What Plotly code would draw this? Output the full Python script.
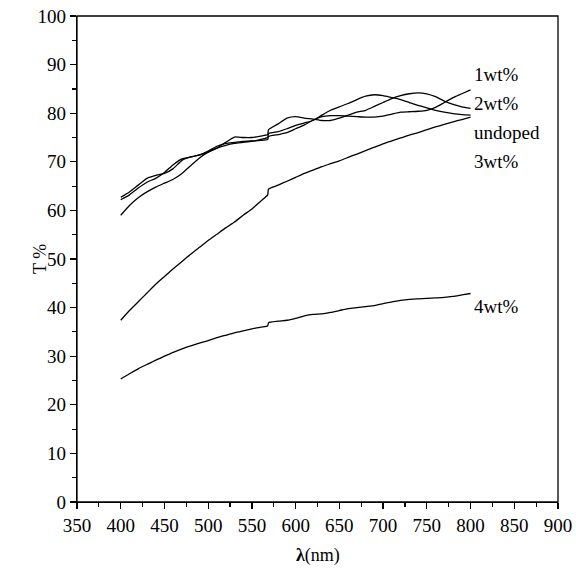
import plotly.graph_objects as go

wavelength = [400, 410, 420, 430, 440, 450, 460, 470, 480, 490, 500, 510, 520, 530, 540, 550, 560, 568, 569,
              580, 590, 600, 610, 620, 630, 640, 650, 660, 670, 680, 690, 700, 710, 720, 730, 740, 750, 760,
              770, 780, 790, 800]

undoped = [59.0, 61.0, 62.6, 63.8, 64.8, 65.6, 66.4, 67.6, 69.2, 70.8, 72.0, 72.8, 73.4, 73.8, 74.0, 74.2,
           74.6, 75.0, 75.8, 76.2, 76.8, 77.5, 78.0, 78.5, 79.6, 80.6, 81.3, 82.0, 82.8, 83.5, 83.8, 83.6,
           83.2, 82.8, 82.2, 81.6, 81.1, 80.6, 80.2, 79.9, 79.7, 79.6]

wt1 = [62.2, 63.2, 64.6, 65.8, 66.6, 67.8, 69.4, 70.6, 71.0, 71.4, 72.2, 73.2, 73.8, 74.0, 74.2, 74.3,
       74.4, 74.6, 75.2, 75.6, 76.0, 76.8, 77.6, 78.6, 79.3, 79.5, 79.5, 79.4, 79.3, 79.2, 79.2, 79.4,
       79.8, 80.2, 80.3, 80.4, 80.6, 81.2, 82.2, 83.2, 84.0, 84.8]

wt2 = [62.7, 63.8, 65.2, 66.6, 67.2, 67.6, 68.6, 70.3, 71.0, 71.4, 72.0, 72.8, 74.0, 75.1, 75.0, 75.0,
       75.3, 75.6, 76.6, 77.8, 79.0, 79.3, 79.0, 78.8, 78.5, 78.5, 79.0, 79.6, 80.2, 80.6, 81.4, 82.2,
       83.0, 83.6, 84.0, 84.2, 84.0, 83.4, 82.5, 81.8, 81.3, 81.0]

wt3 = [37.4, 39.4, 41.2, 43.0, 44.8, 46.4, 48.0, 49.5, 51.0, 52.4, 53.8, 55.1, 56.4, 57.6, 59.0, 60.3,
       61.9, 63.2, 64.4, 65.2, 66.0, 66.8, 67.6, 68.3, 69.0, 69.6, 70.2, 70.9, 71.6, 72.3, 73.0, 73.7,
       74.3, 74.9, 75.5, 76.0, 76.6, 77.2, 77.7, 78.2, 78.7, 79.2]

wt4 = [25.3, 26.4, 27.4, 28.3, 29.2, 30.0, 30.8, 31.5, 32.1, 32.7, 33.2, 33.8, 34.3, 34.8, 35.2, 35.6,
       36.0, 36.2, 36.9, 37.2, 37.4, 37.8, 38.3, 38.6, 38.7, 39.0, 39.4, 39.8, 40.0, 40.2, 40.4, 40.8,
       41.2, 41.5, 41.7, 41.8, 41.9, 42.0, 42.1, 42.3, 42.6, 42.9]

series = [("undoped", undoped), ("1wt%", wt1), ("2wt%", wt2), ("3wt%", wt3), ("4wt%", wt4)]

label_names = ["1wt%", "2wt%", "undoped", "3wt%", "4wt%"]
label_x = [802, 802, 802, 802, 802]
label_y = [87.9, 82.0, 76.0, 70.0, 40.3]

SERIF = "Liberation Serif"

fig = go.Figure()
for name, vals in series:
    fig.add_trace(go.Scatter(x=wavelength, y=vals, mode="lines", name=name,
                             line=dict(color="black", width=1.3, shape="spline", smoothing=0.5),
                             showlegend=False, hoverinfo="skip"))

for n, lx, ly in zip(label_names, label_x, label_y):
    fig.add_annotation(x=lx, y=ly, text=n, showarrow=False, xanchor="left", yanchor="middle",
                       font=dict(family=SERIF, size=19, color="black"))

# axis titles
fig.add_annotation(x=0, y=0.5, xref="paper", yref="paper", text="T %", textangle=-90, showarrow=False,
                   xanchor="center", yanchor="middle", xshift=-37,
                   font=dict(family=SERIF, size=18, color="black"))
fig.add_annotation(x=0.5, y=0, xref="paper", yref="paper", text="<b>λ</b>(nm)", showarrow=False,
                   xanchor="center", yanchor="middle", yshift=-53,
                   font=dict(family=SERIF, size=18, color="black"))

# frame
fig.add_shape(type="rect", xref="paper", yref="paper", x0=0, y0=0, x1=1, y1=1,
              line=dict(color="black", width=1.3), layer="above")

axis_common = dict(showline=True, linecolor="black", linewidth=1.3, mirror=False, ticks="outside",
                   tickcolor="black", tickwidth=1.3, ticklen=6, showgrid=False, zeroline=False,
                   ticklabeloverflow="allow", automargin=False,
                   tickfont=dict(family=SERIF, size=19, color="black"))

fig.update_xaxes(range=[350, 900], tick0=350, dtick=50,
                 minor=dict(ticks="outside", dtick=25, tick0=350, ticklen=4, tickcolor="black", tickwidth=1.2),
                 **axis_common)
fig.update_yaxes(range=[0, 100], tick0=0, dtick=10,
                 minor=dict(ticks="outside", dtick=5, tick0=0, ticklen=4, tickcolor="black", tickwidth=1.2),
                 **axis_common)

fig.update_layout(width=576, height=574, plot_bgcolor="white", paper_bgcolor="white",
                  margin=dict(l=77, r=18, t=16, b=72), hovermode=False)

fig.write_html("out.html", config={"displayModeBar": False, "staticPlot": True},
               post_script="document.body.style.margin='0';document.body.style.overflow='hidden';")
